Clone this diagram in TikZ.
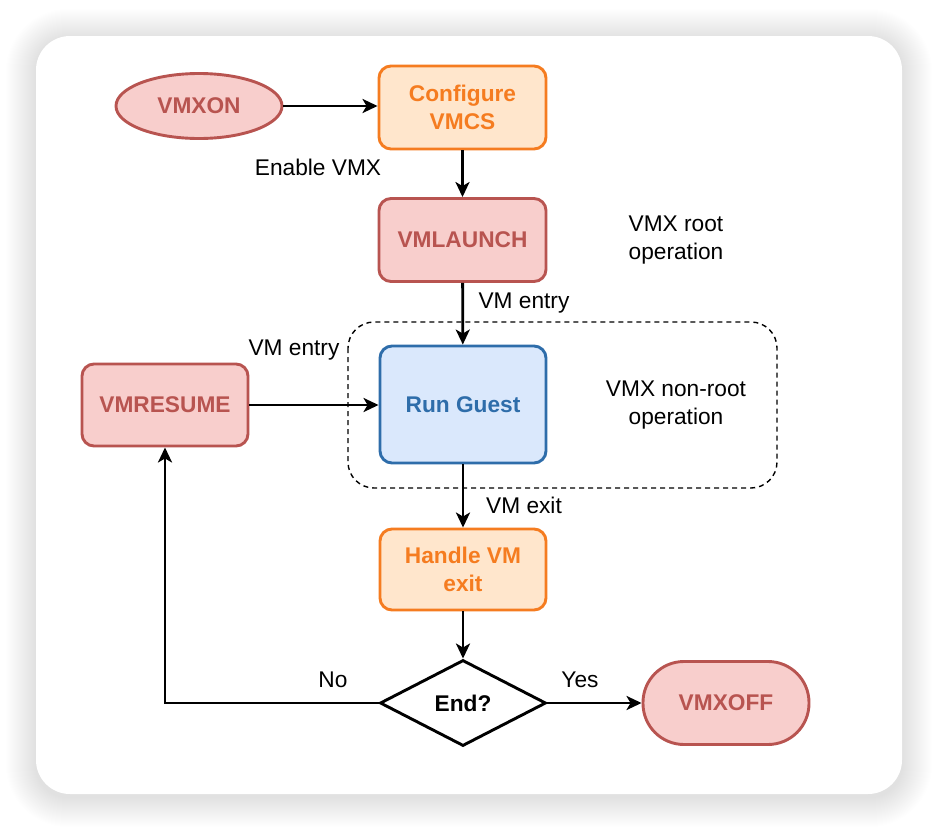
\documentclass[tikz,border=0pt]{standalone}
\usepackage{fontspec}
\setmainfont{Liberation Sans}
\usetikzlibrary{shapes.geometric,arrows.meta}
\definecolor{redfill}{HTML}{F8CECC}
\definecolor{redline}{HTML}{B85450}
\definecolor{orfill}{HTML}{FFE6CC}
\definecolor{orline}{HTML}{F57C20}
\definecolor{bluefill}{HTML}{DAE8FC}
\definecolor{blueline}{HTML}{2E6DAA}
\tikzset{
  base/.style={draw, line width=2.9pt, align=center, inner sep=0pt,
    font=\fontsize{22.7}{28}\selectfont\bfseries},
  boxr/.style={base, rectangle, rounded corners=12pt, minimum width=167pt, minimum height=83pt},
  redbox/.style={boxr, fill=redfill, draw=redline, text=redline},
  orbox/.style={boxr, fill=orfill, draw=orline, text=orline},
  bluebox/.style={boxr, fill=bluefill, draw=blueline, text=blueline},
  lbl/.style={align=center, font=\fontsize{22.7}{28}\selectfont, inner sep=0pt},
  arr/.style={line width=2.8pt, -{Stealth[length=15pt,width=14pt,inset=4pt]}},
}
\begin{document}
\begin{tikzpicture}[x=1pt,y=-1pt]
\useasboundingbox (0,0) rectangle (938,830);
\fill[white] (0,0) rectangle (938,830);
% shadow
\foreach \i in {1,...,30}{
  \fill[black, opacity=0.0045, rounded corners=32+\i] (36-\i,36-\i+3) rectangle (902+\i,794+\i+3);
}
\fill[white, rounded corners=34pt] (36,36) rectangle (902,794);
% dashed region
\draw[line width=1.4pt, dash pattern=on 5pt off 4pt, rounded corners=26pt] (348,322) rectangle (777,488);
% nodes
\node[base, ellipse, fill=redfill, draw=redline, text=redline, minimum width=166pt, minimum height=65pt] (vmxon) at (199,106) {VMXON};
\node[orbox] (conf) at (462.5,107.5) {Configure\\VMCS};
\node[redbox] (launch) at (462.5,240) {VMLAUNCH};
\node[bluebox, minimum width=166pt, minimum height=117pt] (guest) at (463,404.5) {Run Guest};
\node[redbox, minimum width=166pt, minimum height=82pt] (resume) at (165,405) {VMRESUME};
\node[orbox, minimum width=166pt, minimum height=81pt] (handle) at (463,569.5) {Handle VM\\exit};
\node[base, diamond, draw=black, fill=white, text=black, minimum width=166pt, minimum height=86pt] (endd) at (463,703) {End?};
\node[base, rectangle, rounded corners=41pt, fill=redfill, draw=redline, text=redline, minimum width=166pt, minimum height=83pt] (vmxoff) at (726,703) {VMXOFF};
% labels
\node[lbl] (lenable) at (318,167) {Enable VMX};
\node[lbl] (lroot) at (676,240) {VMX root\\operation};
\node[lbl] (lentry1) at (524,303) {VM entry};
\node[lbl] (lentry2) at (294,350) {VM entry};
\node[lbl] (lnonroot) at (676,405) {VMX non-root\\operation};
\node[lbl] (lexit) at (524,505) {VM exit};
\node[lbl] (lno) at (333,680) {No};
\node[lbl] (lyes) at (580,680) {Yes};
% connectors
\draw[arr] (vmxon.east) -- (vmxon.east -| conf.west);
\draw[arr] (conf) -- (launch);
\draw[arr] (launch) -- (guest);
\draw[arr] (resume.east) -- (resume.east -| guest.west);
\draw[arr] (guest) -- (handle);
\draw[arr] (handle) -- (endd);
\draw[arr] (endd.east) -- (endd.east -| vmxoff.west);
\draw[arr] (endd.west) -| (resume.south);
\end{tikzpicture}
\end{document}
